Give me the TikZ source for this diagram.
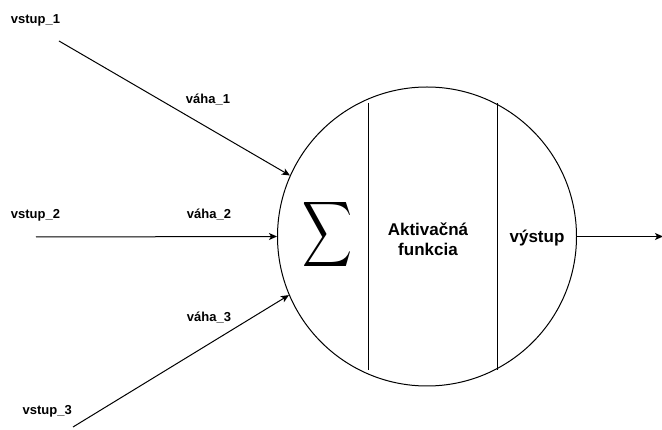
\documentclass[tikz,border=0pt]{standalone}
\usepackage{fontspec}
\setmainfont{Liberation Sans}
\usetikzlibrary{arrows.meta}
\begin{document}
\begin{tikzpicture}[x=1pt,y=-1pt,
  lbl/.style={font=\fontsize{13}{15}\selectfont\bfseries, anchor=base, inner sep=0pt},
  big/.style={font=\fontsize{17}{20}\selectfont\bfseries, inner sep=0pt, align=center},
  conn/.style={line width=1pt, -{Stealth[length=8pt,width=7pt,inset=2pt]}},
  part/.style={line width=1pt},
]
\useasboundingbox (0,0) rectangle (662,430);

% neuron body
\node[draw, circle, line width=1pt, minimum size=299pt, inner sep=0pt] (neuron) at (427,236.5) {};

% dividers between the three stages
\coordinate (d1t) at (368,103);
\coordinate (d1b) at (368,370);
\coordinate (d2t) at (497,103);
\coordinate (d2b) at (497,370);
\draw[part] (d1t) -- (d1b);
\draw[part] (d2t) -- (d2b);

% stage contents
\node[inner sep=0pt] (sum) at (328,234.5)
  {\resizebox{50pt}{65pt}{\fontsize{46}{46}\selectfont$\displaystyle\sum$}};
\node[big] (akt) at (428,239) {Aktivačná\\funkcia};
\node[big, anchor=base] (vys) at (537,243) {výstup};

% input labels
\node[lbl] (v1) at (35.5,24) {vstup\_1};
\node[lbl] (v2) at (35.5,218.3) {vstup\_2};
\node[lbl] (v3) at (47.2,414.3) {vstup\_3};
\node[lbl] (w1) at (208,104) {váha\_1};
\node[lbl] (w2) at (209,218.3) {váha\_2};
\node[lbl] (w3) at (209,321.7) {váha\_3};

% input connectors
\coordinate (in1) at (59,41);
\coordinate (in2) at (36,237);
\coordinate (in3) at (73,427);
\draw[conn] (in1) -- (neuron.156.5);
\draw[conn] (in2) -- (neuron.west);
\draw[conn] (in3) -- (neuron.203.7);

% output connector
\coordinate (out) at (663,236.5);
\draw[conn] (neuron.east) -- (out);
\end{tikzpicture}
\end{document}
